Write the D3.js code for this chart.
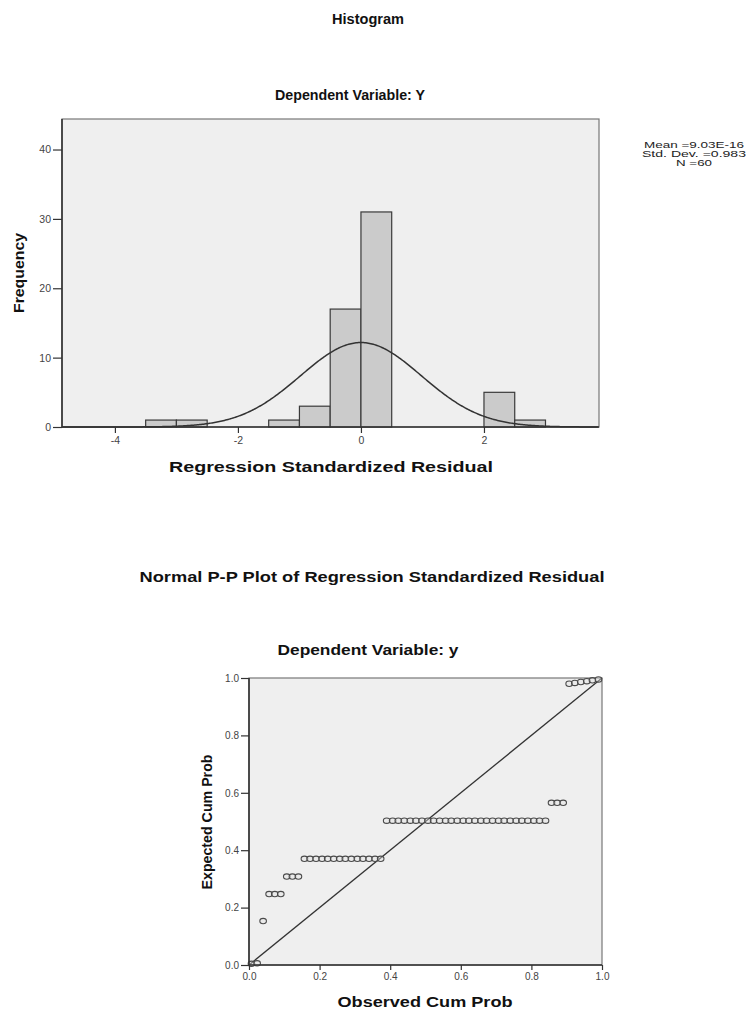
<!DOCTYPE html>
<html>
<head>
<meta charset="utf-8">
<script src="https://cdn.jsdelivr.net/npm/d3@7"></script>
<style>
  html, body { margin: 0; padding: 0; background: #fff; }
  svg { display: block; font-family: Arial, "Liberation Sans", sans-serif; }
</style>
</head>
<body>
<svg id="chart" width="746" height="1010"></svg>
<script>
// ---------- Histogram data ----------
const binLower = [-3.5, -3.0, -1.5, -1.0, -0.5, 0.0, 2.0, 2.5];
const binUpper = [-3.0, -2.5, -1.0, -0.5, 0.0, 0.5, 2.5, 3.0];
const binCounts = [1, 1, 1, 3, 17, 31, 5, 1];
const histXTicks = [-4, -2, 0, 2];
const histYTicks = [0, 10, 20, 30, 40];
const statMean = 9.03e-16;
const statSD = 0.983;
const statN = 60;
const statLines = ["Mean =9.03E-16", "Std. Dev. =0.983", "N =60"];

// ---------- P-P plot data ----------
const observedCum = [
  0.007, 0.023, 0.040, 0.057, 0.073, 0.090, 0.107, 0.123, 0.140, 0.157,
  0.173, 0.190, 0.207, 0.223, 0.240, 0.257, 0.273, 0.290, 0.307, 0.323,
  0.340, 0.357, 0.373, 0.390, 0.407, 0.423, 0.440, 0.457, 0.473, 0.490,
  0.507, 0.523, 0.540, 0.557, 0.573, 0.590, 0.607, 0.623, 0.640, 0.657,
  0.673, 0.690, 0.707, 0.723, 0.740, 0.757, 0.773, 0.790, 0.807, 0.823,
  0.840, 0.857, 0.873, 0.890, 0.907, 0.923, 0.940, 0.957, 0.973, 0.990
];
const expectedCum = [
  0.004, 0.006, 0.153, 0.247, 0.247, 0.247, 0.308, 0.308, 0.308, 0.370,
  0.370, 0.370, 0.370, 0.370, 0.370, 0.370, 0.370, 0.370, 0.370, 0.370,
  0.370, 0.370, 0.370, 0.503, 0.503, 0.503, 0.503, 0.503, 0.503, 0.503,
  0.503, 0.503, 0.503, 0.503, 0.503, 0.503, 0.503, 0.503, 0.503, 0.503,
  0.503, 0.503, 0.503, 0.503, 0.503, 0.503, 0.503, 0.503, 0.503, 0.503,
  0.503, 0.565, 0.565, 0.565, 0.980, 0.983, 0.986, 0.989, 0.992, 0.995
];
const ppTicks = [0.0, 0.2, 0.4, 0.6, 0.8, 1.0];

const svg = d3.select("#chart");
const bg = "#efefef";
const axisCol = "#333";
const tickTextCol = "#444";

function titleText(x, y, txt, len, size) {
  return svg.append("text")
    .attr("x", x).attr("y", y)
    .attr("text-anchor", "middle")
    .attr("font-size", size || 14)
    .attr("font-weight", "bold")
    .attr("fill", "#111")
    .attr("textLength", len)
    .attr("lengthAdjust", "spacingAndGlyphs")
    .text(txt);
}

// ================= HISTOGRAM =================
const hx = d3.scaleLinear().domain([-4.86, 3.87]).range([62, 599]);
const hy = d3.scaleLinear().domain([0, 44.4]).range([427, 119]);

titleText(368, 24, "Histogram", 72);
titleText(350, 100, "Dependent Variable: Y", 150);

svg.append("rect")
  .attr("x", hx.range()[0]).attr("y", hy.range()[1])
  .attr("width", hx.range()[1] - hx.range()[0])
  .attr("height", hy.range()[0] - hy.range()[1])
  .attr("fill", bg).attr("stroke", "#777").attr("stroke-width", 1.2);

const bins = binLower.map((l, i) => ({ lo: l, hi: binUpper[i], n: binCounts[i] }));
svg.append("g").selectAll("rect").data(bins).join("rect")
  .attr("x", d => hx(d.lo))
  .attr("y", d => hy(d.n))
  .attr("width", d => hx(d.hi) - hx(d.lo))
  .attr("height", d => hy(0) - hy(d.n))
  .attr("fill", "#cbcbcb")
  .attr("stroke", "#3a3a3a")
  .attr("stroke-width", 1.2);

// fitted normal curve from the reported statistics
const binW = binUpper[0] - binLower[0];
const curveX = d3.range(hx.domain()[0], hx.domain()[1] + 0.001, 0.02);
const normal = x => statN * binW * Math.exp(-0.5 * Math.pow((x - statMean) / statSD, 2)) / (statSD * Math.sqrt(2 * Math.PI));
svg.append("path")
  .datum(curveX)
  .attr("fill", "none")
  .attr("stroke", "#333")
  .attr("stroke-width", 1.5)
  .attr("d", d3.line().x(d => hx(d)).y(d => hy(normal(d))));

const hyphenFmt = d => String(d);
const hxAxis = svg.append("g")
  .attr("transform", `translate(0,${hy(0)})`)
  .call(d3.axisBottom(hx).tickValues(histXTicks).tickSize(6).tickPadding(4).tickFormat(hyphenFmt));
const hyAxis = svg.append("g")
  .attr("transform", `translate(${hx.range()[0]},0)`)
  .call(d3.axisLeft(hy).tickValues(histYTicks).tickSize(9).tickPadding(2).tickFormat(hyphenFmt));
[hxAxis, hyAxis].forEach(a => {
  a.select(".domain").attr("stroke", axisCol).attr("stroke-width", 1.6);
  a.selectAll(".tick line").attr("stroke", axisCol).attr("stroke-width", 1.2);
  a.selectAll(".tick text").attr("fill", tickTextCol).attr("font-size", 10.5)
    .attr("font-family", "Arial, 'Liberation Sans', sans-serif");
});
hxAxis.select(".domain").attr("d", `M${hx.range()[0]},0H${hx.range()[1]}`);
hyAxis.select(".domain").attr("d", `M0,${hy.range()[0]}V${hy.range()[1]}`);

titleText(331, 472, "Regression Standardized Residual", 324);
svg.append("text")
  .attr("transform", "translate(24,273) rotate(-90)")
  .attr("text-anchor", "middle")
  .attr("font-size", 14).attr("font-weight", "bold").attr("fill", "#111")
  .attr("textLength", 80).attr("lengthAdjust", "spacingAndGlyphs")
  .text("Frequency");

const statLens = [100, 104, 36];
svg.append("g").selectAll("text").data(statLines).join("text")
  .attr("x", 694)
  .attr("y", (d, i) => 148 + i * 9)
  .attr("text-anchor", "middle")
  .attr("font-size", 8.5)
  .attr("fill", "#222")
  .attr("textLength", (d, i) => statLens[i])
  .attr("lengthAdjust", "spacingAndGlyphs")
  .text(d => d);

// ================= P-P PLOT =================
const px = d3.scaleLinear().domain([0, 1]).range([249, 602]);
const py = d3.scaleLinear().domain([0, 1]).range([965, 678]);

titleText(372, 582, "Normal P-P Plot of Regression Standardized Residual", 465);
titleText(368, 655, "Dependent Variable: y", 181);

svg.append("rect")
  .attr("x", px.range()[0]).attr("y", py.range()[1])
  .attr("width", px.range()[1] - px.range()[0])
  .attr("height", py.range()[0] - py.range()[1])
  .attr("fill", bg).attr("stroke", "#777").attr("stroke-width", 1.2);

svg.append("line")
  .attr("x1", px(0)).attr("y1", py(0))
  .attr("x2", px(1)).attr("y2", py(1))
  .attr("stroke", "#333").attr("stroke-width", 1.3);

const pts = observedCum.map((o, i) => ({ o: o, e: expectedCum[i] }));
svg.append("g").selectAll("ellipse").data(pts).join("ellipse")
  .attr("cx", d => px(d.o))
  .attr("cy", d => py(d.e))
  .attr("rx", 3.3).attr("ry", 2.7)
  .attr("fill", "#e4e4e4")
  .attr("fill-opacity", 0.4)
  .attr("stroke", "#4a4a4a")
  .attr("stroke-width", 1.1);

const pxAxis = svg.append("g")
  .attr("transform", `translate(0,${py(0)})`)
  .call(d3.axisBottom(px).tickValues(ppTicks).tickSize(5).tickPadding(3).tickFormat(d3.format(".1f")));
const pyAxis = svg.append("g")
  .attr("transform", `translate(${px(0)},0)`)
  .call(d3.axisLeft(py).tickValues(ppTicks).tickSize(8).tickPadding(2).tickFormat(d3.format(".1f")));
[pxAxis, pyAxis].forEach(a => {
  a.select(".domain").attr("stroke", axisCol).attr("stroke-width", 1.6);
  a.selectAll(".tick line").attr("stroke", axisCol).attr("stroke-width", 1.2);
  a.selectAll(".tick text").attr("fill", tickTextCol).attr("font-size", 10)
    .attr("font-family", "Arial, 'Liberation Sans', sans-serif");
});
pxAxis.select(".domain").attr("d", `M${px.range()[0]},0H${px.range()[1]}`);
pyAxis.select(".domain").attr("d", `M0,${py.range()[0]}V${py.range()[1]}`);

titleText(425, 1007, "Observed Cum Prob", 175);
svg.append("text")
  .attr("transform", "translate(212,822) rotate(-90)")
  .attr("text-anchor", "middle")
  .attr("font-size", 14).attr("font-weight", "bold").attr("fill", "#111")
  .attr("textLength", 135).attr("lengthAdjust", "spacingAndGlyphs")
  .text("Expected Cum Prob");
</script>
</body>
</html>
